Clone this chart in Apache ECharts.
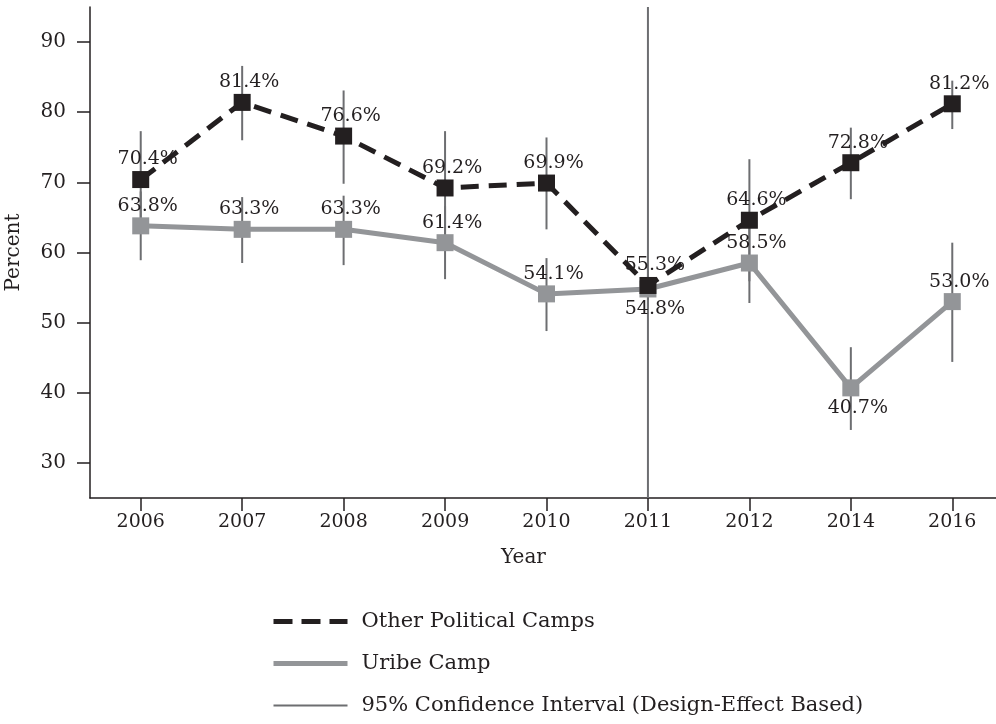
<!DOCTYPE html>
<html>
<head>
<meta charset="utf-8">
<script src="https://cdn.jsdelivr.net/npm/echarts@6/dist/echarts.min.js"></script>
<style>
html,body{margin:0;padding:0;background:#fff;}
#chart{width:996px;height:724px;}
</style>
</head>
<body>
<div id="chart"></div>
<script>
var years = ['2006','2007','2008','2009','2010','2011','2012','2014','2016'];
var otherCamps = [70.4, 81.4, 76.6, 69.2, 69.9, 55.3, 64.6, 72.8, 81.2];
var uribeCamp = [63.8, 63.3, 63.3, 61.4, 54.1, 54.8, 58.5, 40.7, 53.0];
var otherLow  = [63.5, 76.0, 69.8, 61.1, 63.3, 25.0, 55.9, 67.6, 77.6];
var otherHigh = [77.3, 86.6, 83.1, 77.3, 76.4, 95.0, 73.3, 77.8, 84.5];
var uribeLow  = [58.9, 58.5, 58.2, 56.2, 48.8, 52.0, 52.8, 34.7, 44.4];
var uribeHigh = [68.7, 67.9, 68.1, 66.6, 59.2, 57.6, 64.2, 46.5, 61.4];
var uribeBelow = ['2011', '2014'];
var yTicks = [30, 40, 50, 60, 70, 80, 90];

var FONT = 'DejaVu Serif';
var TXT = '#231f20';
var CI_COLOR = '#6d6e71';
var ciName = '95% Confidence Interval (Design-Effect Based)';

var ciData = [];
for (var i = 0; i < years.length; i++) {
  ciData.push([i, otherLow[i], otherHigh[i]]);
  ciData.push([i, uribeLow[i], uribeHigh[i]]);
}

var uribeData = uribeCamp.map(function (v, i) {
  var below = uribeBelow.indexOf(years[i]) >= 0;
  return { value: v, label: { position: below ? 'bottom' : 'top' } };
});

function pct(p) { return Number(p.value).toFixed(1) + '%'; }

var chart = echarts.init(document.getElementById('chart'), null, { renderer: 'canvas' });
chart.setOption({
  animation: false,
  backgroundColor: '#ffffff',
  textStyle: { fontFamily: FONT, color: TXT },
  grid: { left: 90, right: -7, top: 7, bottom: 226, containLabel: false, outerBoundsMode: 'none' },
  xAxis: {
    type: 'category',
    data: years,
    boundaryGap: true,
    name: 'Year',
    nameLocation: 'middle',
    nameGap: 50,
    nameTextStyle: { fontFamily: FONT, fontSize: 20, color: TXT, padding: [0, 46, 0, 0] },
    axisLine: { show: true, lineStyle: { color: TXT, width: 1.5 } },
    axisTick: { show: true, alignWithLabel: true, interval: 0, length: 13, lineStyle: { color: TXT, width: 1.5 } },
    axisLabel: { fontFamily: FONT, fontSize: 19, color: TXT, margin: 15, interval: 0 },
    splitLine: { show: false }
  },
  yAxis: {
    type: 'value',
    min: 25,
    max: 95,
    name: 'Percent',
    nameLocation: 'middle',
    nameGap: 66,
    nameTextStyle: { fontFamily: FONT, fontSize: 20, color: TXT },
    axisLine: { show: true, lineStyle: { color: TXT, width: 1.5 } },
    axisTick: { show: true, length: 13, customValues: yTicks, lineStyle: { color: TXT, width: 1.5 } },
    axisLabel: { fontFamily: FONT, fontSize: 20, color: TXT, margin: 24, customValues: yTicks },
    splitLine: { show: false }
  },
  legend: {
    orient: 'vertical',
    left: 266,
    top: 606,
    height: 118,
    itemWidth: 74,
    itemHeight: 14,
    itemGap: 21,
    textStyle: { fontFamily: FONT, fontSize: 21, color: TXT, padding: [0, 0, 0, 9] },
    data: [
      { name: 'Other Political Camps', itemStyle: { opacity: 0 }, lineStyle: { width: 5, type: [19, 9], color: '#231f20' } },
      { name: 'Uribe Camp', itemStyle: { opacity: 0 }, lineStyle: { width: 5, color: '#939598' } },
      { name: ciName, icon: 'path://M0,0H74V2H0Z', itemStyle: { color: CI_COLOR } }
    ]
  },
  series: [
    {
      name: ciName,
      type: 'custom',
      z: 1,
      data: ciData,
      itemStyle: { color: CI_COLOR },
      renderItem: function (params, api) {
        var x = api.value(0);
        var p1 = api.coord([x, api.value(1)]);
        var p2 = api.coord([x, api.value(2)]);
        return {
          type: 'line',
          shape: { x1: p1[0], y1: p1[1], x2: p2[0], y2: p2[1] },
          style: { stroke: CI_COLOR, lineWidth: 2 }
        };
      }
    },
    {
      name: 'Uribe Camp',
      type: 'line',
      z: 3,
      data: uribeData,
      symbol: 'rect',
      symbolSize: 17,
      itemStyle: { color: '#939598' },
      lineStyle: { color: '#939598', width: 5 },
      label: { show: true, offset: [7, 0], formatter: pct, fontFamily: FONT, fontSize: 19, color: TXT, distance: 2 },
      emphasis: { disabled: true }
    },
    {
      name: 'Other Political Camps',
      type: 'line',
      z: 4,
      data: otherCamps,
      symbol: 'rect',
      symbolSize: 17,
      itemStyle: { color: '#231f20' },
      lineStyle: { color: '#231f20', width: 5, type: [18, 10] },
      label: { show: true, position: 'top', offset: [7, 0], formatter: pct, fontFamily: FONT, fontSize: 19, color: TXT, distance: 2 },
      emphasis: { disabled: true }
    }
  ]
});
</script>
</body>
</html>
